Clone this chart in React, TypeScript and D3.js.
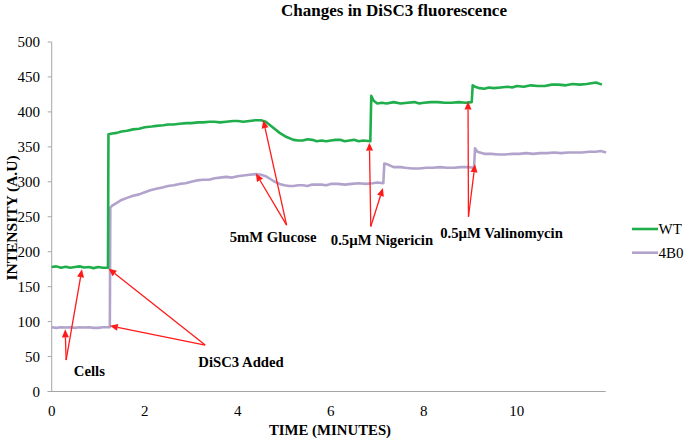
import React from "react";
import * as d3 from "d3";

const wtTime = [0, 0.1, 0.2, 0.3, 0.4, 0.5, 0.6, 0.7, 0.8, 0.9, 1.0, 1.1, 1.21, 1.22, 1.3, 1.4, 1.5, 1.62, 1.75, 1.88, 2.0, 2.15, 2.25, 2.4, 2.5, 2.62, 2.75, 2.9, 3.0, 3.15, 3.25, 3.4, 3.5, 3.62, 3.75, 3.9, 4.0, 4.12, 4.25, 4.38, 4.5, 4.6, 4.75, 4.9, 5.05, 5.2, 5.3, 5.4, 5.5, 5.6, 5.7, 5.8, 5.9, 6.0, 6.1, 6.2, 6.3, 6.4, 6.5, 6.6, 6.7, 6.85, 6.87, 6.92, 7.0, 7.1, 7.2, 7.35, 7.5, 7.65, 7.8, 7.9, 8.0, 8.15, 8.3, 8.45, 8.6, 8.75, 8.9, 9.03, 9.05, 9.1, 9.2, 9.3, 9.4, 9.5, 9.65, 9.8, 9.9, 10.0, 10.15, 10.3, 10.45, 10.6, 10.75, 10.9, 11.05, 11.2, 11.35, 11.5, 11.6, 11.7, 11.83];
const wtValue = [178, 179, 177, 178.5, 177, 178, 179, 177.5, 178, 176.5, 178, 177, 177, 368, 369, 370, 372, 373, 375, 376, 378, 379, 380, 381, 382, 382, 383, 384, 384, 385, 385, 386, 386, 385, 386, 387, 387, 386, 387, 388, 388, 386, 378, 370, 364, 360, 359, 359, 361, 360, 358, 359, 358, 359, 360, 360, 358, 359, 360, 358, 359, 358, 423, 416, 412, 413, 412, 414, 412, 413, 414, 412, 413, 414, 414, 413, 413, 414, 413, 414, 438, 436, 434, 433, 435, 434, 435, 436, 435, 437, 436, 438, 437, 437, 439, 439, 438, 440, 439, 440, 441, 442, 439];

const b0Time = [0, 0.1, 0.2, 0.3, 0.4, 0.5, 0.6, 0.7, 0.8, 0.9, 1.0, 1.1, 1.25, 1.26, 1.3, 1.4, 1.5, 1.62, 1.75, 1.88, 2.0, 2.12, 2.25, 2.38, 2.5, 2.62, 2.75, 2.88, 3.0, 3.12, 3.25, 3.38, 3.5, 3.62, 3.75, 3.88, 4.0, 4.12, 4.25, 4.4, 4.5, 4.6, 4.7, 4.8, 4.9, 5.0, 5.1, 5.2, 5.3, 5.4, 5.5, 5.6, 5.7, 5.8, 5.9, 6.0, 6.15, 6.3, 6.45, 6.6, 6.75, 6.9, 7.0, 7.13, 7.15, 7.22, 7.35, 7.5, 7.6, 7.75, 7.9, 8.05, 8.2, 8.35, 8.5, 8.65, 8.8, 8.95, 9.08, 9.1, 9.15, 9.3, 9.45, 9.6, 9.75, 9.9, 10.05, 10.2, 10.35, 10.5, 10.65, 10.8, 10.95, 11.1, 11.25, 11.4, 11.55, 11.7, 11.8, 11.92];
const b0Value = [92, 91, 92, 91.5, 92, 91, 92, 91.5, 92, 91, 91, 92, 92, 263, 266, 270, 274, 277, 280, 282, 285, 288, 290, 292, 294, 295, 297, 298, 300, 302, 303, 303, 305, 306, 307, 306, 308, 309, 310, 311, 310, 308, 304, 300, 297, 295, 294, 294, 295, 295, 294, 296, 296, 296, 295, 297, 297, 296, 297, 298, 297, 298, 299, 298, 326, 325, 321, 321, 320, 319, 319, 320, 320, 321, 320, 320, 321, 321, 320, 348, 343, 340, 340, 339, 339, 340, 340, 341, 340, 341, 341, 342, 341, 342, 342, 342, 343, 343, 344, 342];

const seriesNames = ["WT", "4B0"];
const seriesColors = ["#1fae4b", "#b2a3cc"];

const yTicks = [0, 50, 100, 150, 200, 250, 300, 350, 400, 450, 500];
const xTicks = [0, 2, 4, 6, 8, 10];

// annotations in data units: label [t, v], tail [t, v], heads [[t, v], ...]
const annLabels = ["Cells", "DiSC3 Added", "5mM Glucose", "0.5\u00b5M Nigericin", "0.5\u00b5M Valinomycin"];
const annLabelPos = [[0.81, 29], [4.07, 42], [4.76, 221], [7.1, 217], [9.67, 227]];
const annTails = [[0.31, 45], [3.3, 66.5], [5.05, 238], [6.86, 236], [8.96, 250]];
const annHeads = [
  [[0.29, 89], [0.65, 175]],
  [[1.22, 176], [1.25, 94]],
  [[4.55, 388], [4.39, 312]],
  [[6.83, 356], [7.12, 291]],
  [[8.95, 415], [9.1, 325]],
];

const SERIF = "Liberation Serif, Tinos, Times New Roman, DejaVu Serif, serif";

export default function App() {
  const W = 685, H = 438;
  const x = d3.scaleLinear().domain([0, 11.91]).range([51.7, 605.7]);
  const y = d3.scaleLinear().domain([0, 500]).range([391.5, 42]);
  const line = d3.line<[number, number]>().x((d) => x(d[0])).y((d) => y(d[1]));
  const wtPts = wtTime.map((t, i) => [t, wtValue[i]] as [number, number]);
  const b0Pts = b0Time.map((t, i) => [t, b0Value[i]] as [number, number]);
  const axisColor = "#a6a6a6";
  const ts = (size: number, bold = false): React.CSSProperties => ({
    fontFamily: SERIF,
    fontSize: size,
    fontWeight: bold ? 700 : 400,
  });

  const arrow = (x1: number, y1: number, x2: number, y2: number, key: string) => {
    const ang = Math.atan2(y2 - y1, x2 - x1);
    const L = 8, Wd = 3.5;
    const bx = x2 - L * Math.cos(ang), by = y2 - L * Math.sin(ang);
    const px = -Math.sin(ang) * Wd, py = Math.cos(ang) * Wd;
    return (
      <g key={key}>
        <line x1={x1} y1={y1} x2={bx} y2={by} stroke="#ff1a1a" strokeWidth={1.3} />
        <polygon points={`${x2},${y2} ${bx + px},${by + py} ${bx - px},${by - py}`} fill="#ff1a1a" />
      </g>
    );
  };

  return (
    <svg width={W} height={H} style={{ position: "absolute", left: 0, top: 0, background: "#fff" }}>
      <text x={394} y={16} textAnchor="middle" style={ts(17, true)}>Changes in DiSC3 fluorescence</text>

      {/* y axis */}
      <line x1={x(0)} y1={y(0)} x2={x(0)} y2={y(500)} stroke={axisColor} strokeWidth={1} />
      {yTicks.map((v) => (
        <g key={v}>
          <line x1={x(0) - 4} x2={x(0)} y1={y(v)} y2={y(v)} stroke={axisColor} strokeWidth={1} />
          <text x={40} y={y(v)} dy="0.35em" textAnchor="end" style={ts(15)}>{v}</text>
        </g>
      ))}
      {/* x axis */}
      <line x1={x(0) - 4} y1={y(0)} x2={x(11.91)} y2={y(0)} stroke={axisColor} strokeWidth={1} />
      {xTicks.map((t) => (
        <text key={t} x={x(t)} y={y(0) + 19} dy="0.35em" textAnchor="middle" style={ts(15)}>{t}</text>
      ))}
      <text x={330} y={430} dy="0.35em" textAnchor="middle" style={ts(14.8, true)}>TIME (MINUTES)</text>
      <text transform={`translate(12,218) rotate(-90)`} dy="0.35em" textAnchor="middle" style={ts(15.5, true)}>INTENSITY (A.U)</text>

      {/* series */}
      <path d={line(b0Pts) || ""} fill="none" stroke={seriesColors[1]} strokeWidth={2.6} strokeLinejoin="round" />
      <path d={line(wtPts) || ""} fill="none" stroke={seriesColors[0]} strokeWidth={2.6} strokeLinejoin="round" />

      {/* annotations */}
      {annLabels.map((lab, i) => (
        <g key={lab}>
          {annHeads[i].map((h, j) => arrow(x(annTails[i][0]), y(annTails[i][1]), x(h[0]), y(h[1]), `${i}-${j}`))}
          <text x={x(annLabelPos[i][0])} y={y(annLabelPos[i][1])} dy="0.35em" textAnchor="middle" style={ts(14.7, true)}>{lab}</text>
        </g>
      ))}

      {/* legend */}
      {seriesNames.map((n, i) => (
        <g key={n} transform={`translate(632, ${229 + i * 23.7})`}>
          <line x1={0} x2={26} y1={0} y2={0} stroke={seriesColors[i]} strokeWidth={2.6} />
          <text x={26.5} y={0} dy="0.35em" style={ts(15)}>{n}</text>
        </g>
      ))}
    </svg>
  );
}
